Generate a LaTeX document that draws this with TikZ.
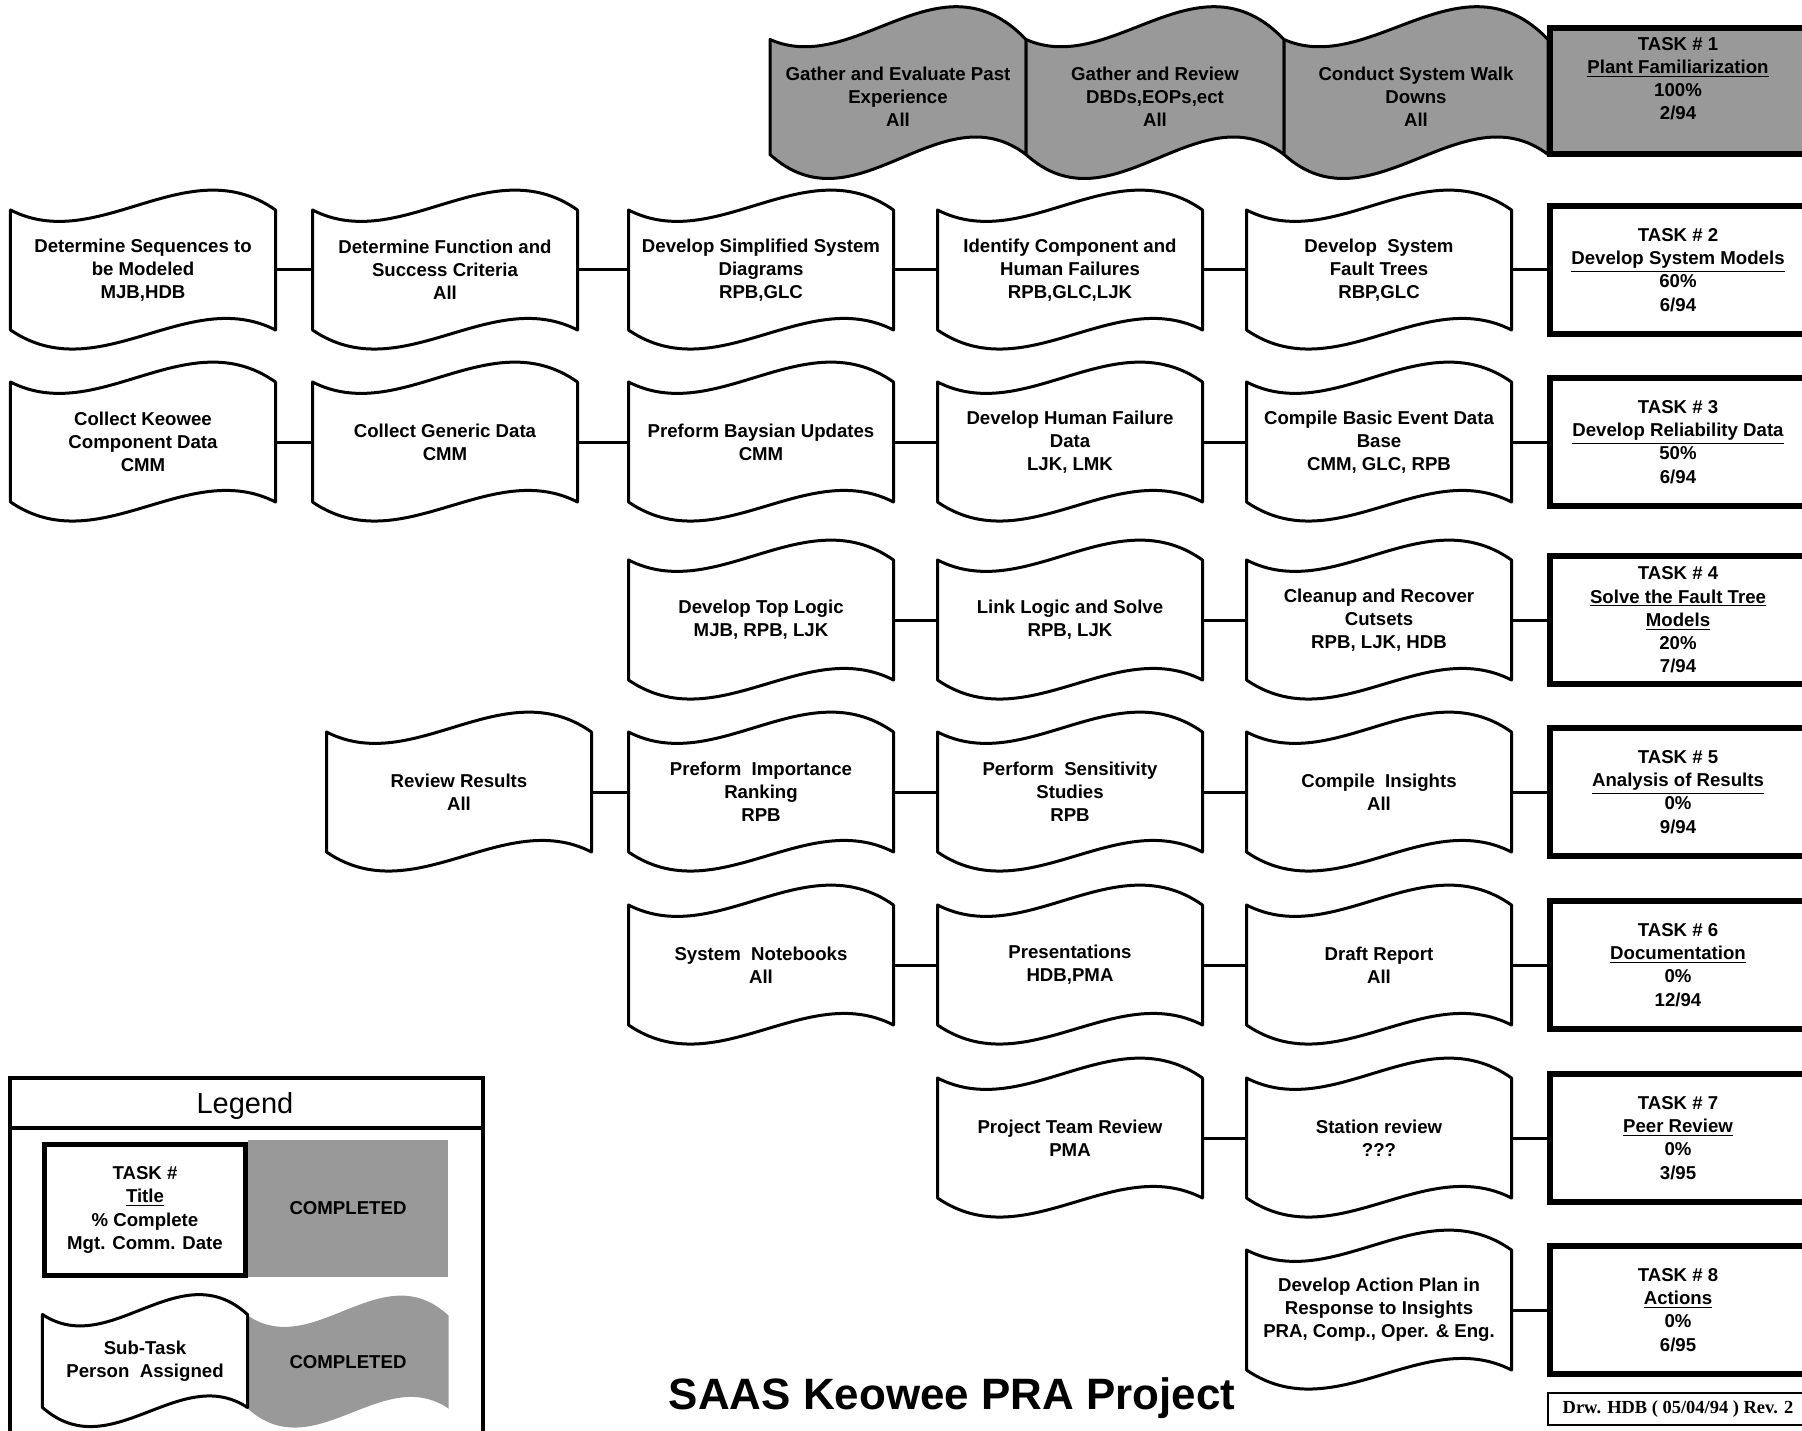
\documentclass[tikz,border=0pt]{standalone}
\usepackage{fontspec}
\setmainfont{Liberation Sans}
\newfontfamily\drwfont{Liberation Serif}
\usetikzlibrary{backgrounds}
\definecolor{done}{gray}{0.6}

% wavy sub-task outline round a node
\newcommand{\tapeline}[3][]{%
  \begin{scope}[on background layer]
    \draw[tape edge,#1] (#2.north west) .. controls +(#3,45) and +(-#3,-62) .. (#2.north east)
      -- (#2.south east) .. controls +(-#3,-45) and +(#3,60) .. (#2.south west) -- cycle;
  \end{scope}}

\begin{document}
\begin{tikzpicture}[x=0.2mm, y=-0.2mm,
    tape/.style={minimum width=53mm, minimum height=24mm, inner sep=1pt, outer sep=0pt,
      align=center, font=\fontsize{10.6}{13.2}\selectfont\bfseries},
    tape edge/.style={line width=0.6mm, line join=round},
    task/.style={draw, line width=1.2mm, minimum width=51.4mm, minimum height=25.6mm,
      outer sep=0pt, align=center, font=\fontsize{10.6}{13.2}\selectfont\bfseries},
    link/.style={line width=0.6mm}]
  \useasboundingbox (0,0) rectangle (1802,1431);

  % task 1, completed
  \node[tape, minimum width=51.2mm, minimum height=23mm] (g1) at (898,97) {Gather and Evaluate Past\\Experience\\All};
  \node[tape, minimum width=51.6mm, minimum height=23mm] (g2) at (1155,97) {Gather and Review\\DBDs,EOPs,ect\\All};
  \node[tape, minimum width=52.8mm, minimum height=23mm] (g3) at (1416,97) {Conduct System Walk\\Downs\\All};
  \begin{scope}[on background layer]
    \foreach \g in {g1,g2,g3}
      \draw[tape edge, fill=done] (\g.north west) .. controls +(86,38) and +(-86,-90) .. (\g.north east)
        -- (\g.south east) .. controls +(-86,-65) and +(86,78) .. (\g.south west) -- cycle;
  \end{scope}
  \node[task, fill=done, minimum height=25.2mm, text depth=14pt] (t1) at (1678,91) {TASK \# 1\\\underline{Plant Familiarization}\\100\%\\2/94};

  % task 2
  \node[tape] (a1) at (143,270) {Determine Sequences to\\be Modeled\\MJB,HDB};
  \node[tape] (a2) at (445,270) {Determine Function and\\Success Criteria\\All};
  \node[tape] (a3) at (761,270) {Develop Simplified System\\Diagrams\\RPB,GLC};
  \node[tape] (a4) at (1070,270) {Identify Component and\\Human Failures\\RPB,GLC,LJK};
  \node[tape] (a5) at (1379,270) {Develop\ \ System\\Fault Trees\\RBP,GLC};
  \node[task] (t2) at (1678,270) {TASK \# 2\\\underline{Develop System Models}\\60\%\\6/94};

  % task 3
  \node[tape] (b1) at (143,442) {Collect Keowee\\Component Data\\CMM};
  \node[tape] (b2) at (445,442) {Collect Generic Data\\CMM};
  \node[tape] (b3) at (761,442) {Preform Baysian Updates\\CMM};
  \node[tape] (b4) at (1070,442) {Develop Human Failure\\Data\\LJK, LMK};
  \node[tape] (b5) at (1379,442) {Compile Basic Event Data\\Base\\CMM, GLC, RPB};
  \node[task] (t3) at (1678,442) {TASK \# 3\\\underline{Develop Reliability Data}\\50\%\\6/94};

  % task 4
  \node[tape] (c3) at (761,620) {Develop Top Logic\\MJB, RPB, LJK};
  \node[tape] (c4) at (1070,620) {Link Logic and Solve\\RPB, LJK};
  \node[tape] (c5) at (1379,620) {Cleanup and Recover\\Cutsets\\RPB, LJK, HDB};
  \node[task] (t4) at (1678,620) {TASK \# 4\\\underline{Solve the Fault Tree}\\\underline{Models}\\20\%\\7/94};

  % task 5
  \node[tape] (d2) at (459,792) {Review Results\\All};
  \node[tape] (d3) at (761,792) {Preform\ \ Importance\\Ranking\\RPB};
  \node[tape] (d4) at (1070,792) {Perform\ \ Sensitivity\\Studies\\RPB};
  \node[tape] (d5) at (1379,792) {Compile\ \ Insights\\All};
  \node[task] (t5) at (1678,792) {TASK \# 5\\\underline{Analysis of Results}\\0\%\\9/94};

  % task 6
  \node[tape] (e3) at (761,965) {System\ \ Notebooks\\All};
  \node[tape] (e4) at (1070,965) {Presentations\\HDB,PMA};
  \node[tape] (e5) at (1379,965) {Draft Report\\All};
  \node[task] (t6) at (1678,965) {TASK \# 6\\\underline{Documentation}\\0\%\\12/94};

  % task 7
  \node[tape] (f4) at (1070,1138) {Project Team Review\\PMA};
  \node[tape] (f5) at (1379,1138) {Station review\\???};
  \node[task] (t7) at (1678,1138) {TASK \# 7\\\underline{Peer Review}\\0\%\\3/95};

  % task 8
  \node[tape] (g5) at (1379,1310) {Develop Action Plan in\\Response to Insights\\PRA, Comp., Oper. \& Eng.};
  \node[task] (t8) at (1678,1310) {TASK \# 8\\\underline{Actions}\\0\%\\6/95};

  \foreach \n in {a1,a2,a3,a4,a5,b1,b2,b3,b4,b5,c3,c4,c5,d2,d3,d4,d5,e3,e4,e5,f4,f5,g5}
    \tapeline{\n}{88};

  \draw[link] (a1) -- (a2); \draw[link] (a2) -- (a3); \draw[link] (a3) -- (a4);
  \draw[link] (a4) -- (a5); \draw[link] (a5) -- (t2);
  \draw[link] (b1) -- (b2); \draw[link] (b2) -- (b3); \draw[link] (b3) -- (b4);
  \draw[link] (b4) -- (b5); \draw[link] (b5) -- (t3);
  \draw[link] (c3) -- (c4); \draw[link] (c4) -- (c5); \draw[link] (c5) -- (t4);
  \draw[link] (d2) -- (d3); \draw[link] (d3) -- (d4); \draw[link] (d4) -- (d5);
  \draw[link] (d5) -- (t5);
  \draw[link] (e3) -- (e4); \draw[link] (e4) -- (e5); \draw[link] (e5) -- (t6);
  \draw[link] (f4) -- (f5); \draw[link] (f5) -- (t7);
  \draw[link] (g5) -- (t8);

  % legend
  \draw[line width=0.8mm] (10,1078) rectangle (483,1450);
  \draw[line width=0.8mm] (10,1128) -- (483,1128);
  \node[font=\fontsize{16.5}{20}\selectfont] (leg) at (245,1106) {Legend};
  \node[fill=done, minimum width=40mm, minimum height=27.4mm, inner sep=0pt,
    font=\fontsize{10.6}{13.2}\selectfont\bfseries] (lc1) at (348,1208) {COMPLETED};
  \node[task, line width=1mm, minimum width=40.2mm, minimum height=26.2mm] (lt) at (145,1210)
    {TASK \#\\\underline{Title}\\\% Complete\\Mgt. Comm. Date};
  \node[tape, minimum width=41mm, minimum height=18.6mm] (ls) at (145,1361) {Sub-Task\\Person\ \ Assigned};
  \node[tape, minimum width=40.2mm, minimum height=18.6mm] (lc2) at (348,1362) {COMPLETED};
  \tapeline[fill=done, draw=none]{lc2}{67}
  \tapeline{ls}{68}

  \node[font=\fontsize{25}{30}\selectfont\bfseries, anchor=base] (title) at (952,1409) {SAAS Keowee PRA Project};
  \node[draw, line width=0.4mm, minimum width=52mm, minimum height=6.4mm, inner sep=0pt,
    font=\drwfont\fontsize{10.5}{12}\selectfont\bfseries] (drw) at (1678,1409) {Drw. HDB ( 05/04/94 ) Rev. 2};
\end{tikzpicture}
\end{document}
